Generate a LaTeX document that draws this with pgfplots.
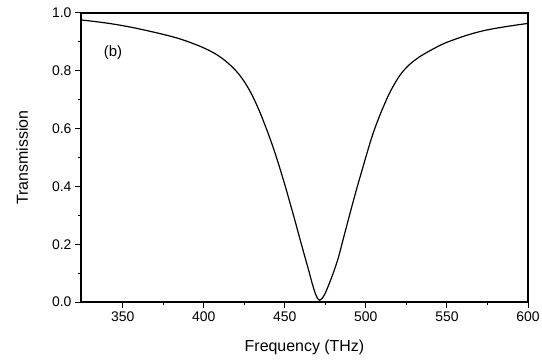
\documentclass[border=0pt]{standalone}
\usepackage{pgfplots}
\pgfplotsset{compat=1.18}
\usepackage{fontspec}
\setmainfont{Liberation Sans}
\begin{document}
\begin{tikzpicture}
\begin{axis}[
  scale only axis,
  width=447bp, height=289bp,
  xmin=324.3, xmax=600, ymin=0, ymax=1,
  xtick={350,400,450,500,550,600},
  ytick={0,0.2,0.4,0.6,0.8,1.0},
  minor x tick num=1, minor y tick num=1,
  tick align=outside,
  xtick pos=bottom, ytick pos=left,
  major tick length=6bp, minor tick length=3bp,
  every tick/.style={black, line width=1bp},
  axis line style={black, line width=1.2bp},
  /pgf/number format/assume math mode=true,
  tick label style={font=\fontsize{14}{16}\selectfont},
  yticklabel style={/pgf/number format/.cd, fixed, fixed zerofill, precision=1},
  xticklabel style={/pgf/number format/.cd, fixed, precision=0},
  xlabel={Frequency (THz)},
  ylabel={Transmission},
  every axis x label/.style={at={(axis description cs:0.5,-0.1696)}, anchor=base, font=\fontsize{16}{18}\selectfont},
  every axis y label/.style={at={(axis description cs:-0.1186,0.5)}, anchor=base, rotate=90, font=\fontsize{16}{18}\selectfont},
  clip=false,
]
\coordinate (bl) at (rel axis cs:0,0);
\coordinate (tr) at (rel axis cs:1,1);
\addplot[black, line width=1.2bp, smooth, tension=0.55] coordinates {
(324.3,0.976) (335,0.969) (345,0.961) (355,0.951) (365,0.939) (375,0.926)
(385,0.911) (395,0.891) (402,0.874) (408,0.856) (413,0.836) (418,0.811)
(422,0.786) (426,0.754) (430,0.714) (434,0.665) (438,0.609) (442,0.548)
(446,0.480) (450,0.406) (453,0.347) (456,0.287) (459,0.225) (462,0.164)
(465,0.104) (467,0.062) (469,0.027) (470.5,0.010) (471.5,0.006) (473,0.012)
(475,0.031) (477,0.058) (480,0.102) (483,0.153) (486,0.217) (489,0.281)
(492,0.344) (495,0.405) (498,0.463) (501,0.521) (504,0.576) (507,0.623)
(510,0.665) (514,0.716) (518,0.758) (522,0.792) (527,0.822) (533,0.848)
(540,0.871) (548,0.894) (556,0.911) (564,0.926) (572,0.938) (580,0.947)
(590,0.956) (600,0.964)
};
\node[font=\fontsize{15}{17}\selectfont, anchor=center] at (axis cs:344,0.862) {(b)};
\end{axis}
\pgfresetboundingbox
\path ([shift={(-81bp,-62bp)}]bl) rectangle ([shift={(14bp,13bp)}]tr);
\end{tikzpicture}
\end{document}
